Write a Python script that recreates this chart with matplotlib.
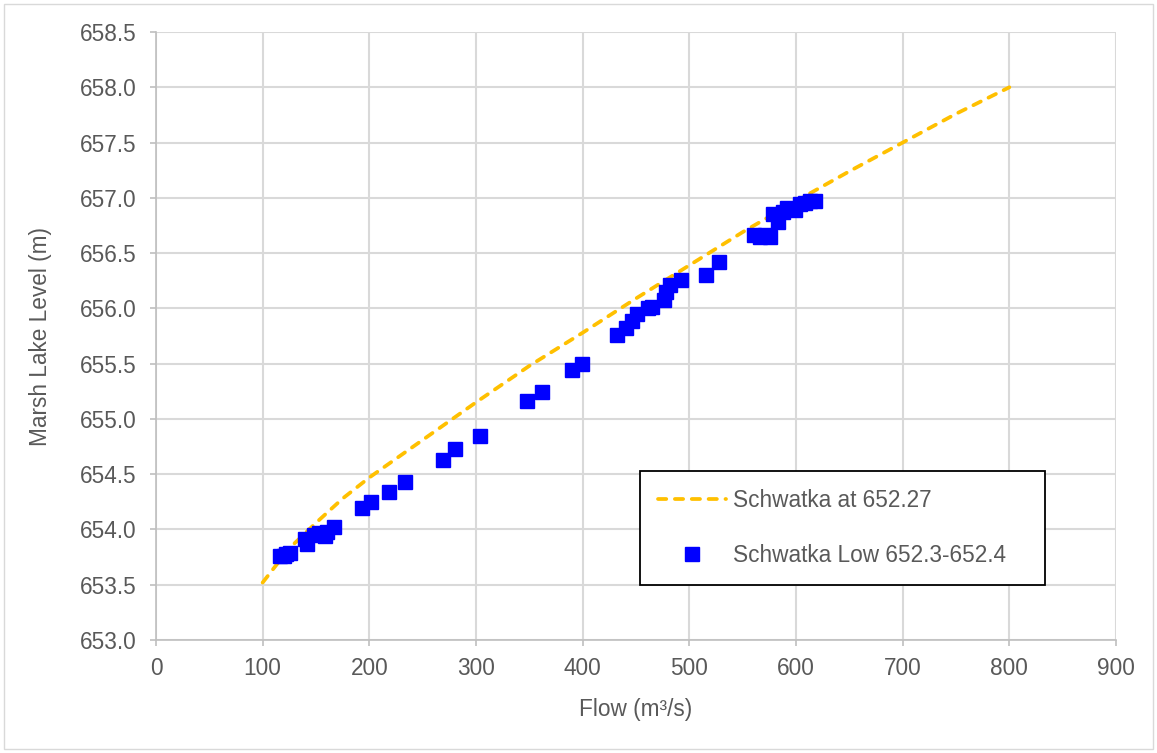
import numpy as np
import matplotlib
import matplotlib.pyplot as plt
from matplotlib.patches import Rectangle

matplotlib.use("Agg")
matplotlib.rcParams["font.family"] = ["Liberation Sans", "DejaVu Sans"]

# Rating curve "Schwatka at 652.27"
curve_flow = [100, 125, 150, 175, 200, 250, 300, 350, 400, 450, 500, 550, 600, 650, 700, 750, 800]
curve_level = [653.52, 653.83, 654.06, 654.28, 654.47, 654.81, 655.15, 655.48, 655.78, 656.09,
               656.39, 656.69, 656.97, 657.24, 657.50, 657.76, 658.00]

# Observed points "Schwatka Low 652.3-652.4"
obs_flow = [116, 120, 122, 126,
            140, 142, 148, 153, 158, 160, 167,
            193, 202, 218, 233,
            269, 280, 304,
            348, 362, 390, 399,
            432, 441, 446, 451, 461, 465, 476, 478, 482, 492,
            516, 528,
            561, 566, 571, 576,
            578, 583, 588, 592, 599, 604, 608, 613, 618]
obs_level = [653.76, 653.76, 653.78, 653.79,
             653.91, 653.87, 653.95, 653.97, 653.94, 653.98, 654.02,
             654.19, 654.25, 654.34, 654.43,
             654.63, 654.73, 654.85,
             655.16, 655.24, 655.44, 655.50,
             655.76, 655.82, 655.89, 655.95, 656.00, 656.01, 656.08, 656.15, 656.21, 656.26,
             656.30, 656.42,
             656.66, 656.65, 656.66, 656.65,
             656.85, 656.78, 656.87, 656.91, 656.89, 656.94, 656.95, 656.97, 656.97]

x_ticks = np.arange(0, 901, 100)
y_ticks = np.arange(653.0, 658.51, 0.5)

font_size = 16.3
text_color = "#595959"
grid_color = "#d9d9d9"

fig = plt.figure(figsize=(11.57, 7.53), dpi=100)
ax = fig.add_axes([0.1348, 0.150, 0.8298, 0.8075])

# chart area border
fig.patches.append(Rectangle((4 / 1157, 4 / 753), 1149 / 1157, 745 / 753,
                             transform=fig.transFigure, fill=False,
                             edgecolor=grid_color, linewidth=1))

ax.plot(curve_flow, curve_level, color="#FFC000", linewidth=2.7,
        linestyle=(0, (2.2, 2.3)), dash_capstyle="round",
        label="Schwatka at 652.27", zorder=3)
ax.plot(obs_flow, obs_level, linestyle="none", marker="s", markersize=10.5,
        color="#0000FF", markeredgecolor="#0000FF",
        label="Schwatka Low 652.3-652.4", zorder=4)

ax.set_xlim(0, 900)
ax.set_ylim(653.0, 658.5)
ax.set_xticks(x_ticks)
ax.set_yticks(y_ticks)
ax.yaxis.set_major_formatter(matplotlib.ticker.FormatStrFormatter("%.1f"))

ax.grid(True, color=grid_color, linewidth=1.5)
ax.set_axisbelow(True)

for side in ["top", "right"]:
    ax.spines[side].set_visible(False)
for side in ["left", "bottom"]:
    ax.spines[side].set_color("#bfbfbf")
    ax.spines[side].set_linewidth(1.2)

ax.tick_params(axis="both", labelsize=font_size, labelcolor=text_color,
               color="#bfbfbf", length=4, width=1.2)
ax.tick_params(axis="y", pad=10)
ax.tick_params(axis="x", pad=8)

ax.set_xlabel("Flow (m³/s)", fontsize=font_size, color=text_color, labelpad=13)
ax.set_ylabel("Marsh Lake Level (m)", fontsize=font_size, color=text_color, labelpad=20)

leg = ax.legend(loc="lower left", bbox_to_anchor=(0.504, 0.0905, 0.422, 0.189),
                mode="expand", borderaxespad=0, fontsize=font_size,
                fancybox=False, framealpha=1, edgecolor="black",
                handlelength=3.0, handletextpad=0.3, labelspacing=1.4,
                borderpad=0.8, labelcolor=text_color)
leg.get_frame().set_linewidth(1.3)

fig.savefig("out.png", dpi=100)
